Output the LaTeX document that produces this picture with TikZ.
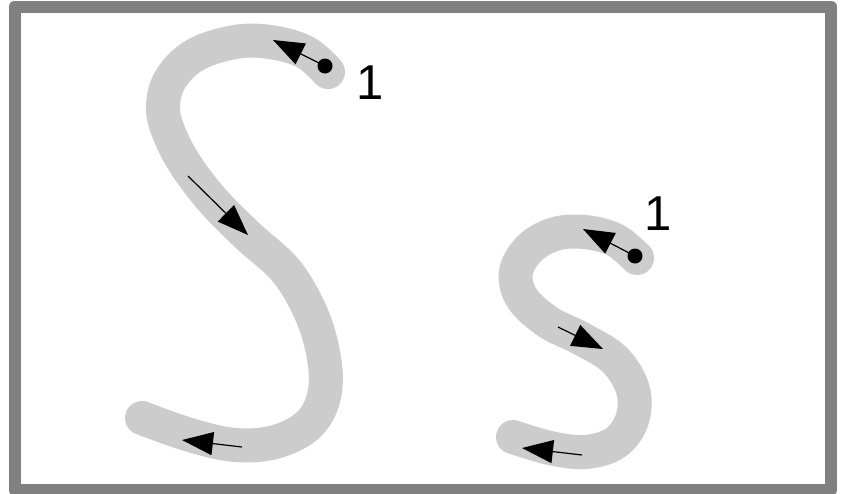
\documentclass[tikz,border=0pt]{standalone}
\usepackage{fontspec}
\setmainfont{Liberation Sans}
\usetikzlibrary{arrows.meta}
\definecolor{strokegray}{HTML}{CCCCCC}
\definecolor{framegray}{HTML}{808080}
\begin{document}
\begin{tikzpicture}[x=1pt,y=-1pt,
  frame/.style={draw=framegray, line width=12pt, line join=round},
  stroke/.style={line width=34pt, draw=strokegray, line cap=round, line join=round},
  dirarrow/.style={line width=1.2pt, -{Triangle[length=31pt,width=23pt]}},
  startdot/.style={circle, fill=black, inner sep=0pt, minimum size=15pt},
  numlabel/.style={font=\fontsize{49}{49}\selectfont, inner sep=0pt}]
\useasboundingbox (0,0) rectangle (845,493);
\fill[white] (0,0) rectangle (845,493);
\draw[frame] (14.5,6.5) rectangle (831,490);
% big S
\draw[stroke] plot[smooth, tension=0.6] coordinates {(328,72) (305,52) (270,42) (235,42) (195,55) (170,80) (163,110) (172,140) (189,170) (215,203) (248,236) (287,272) (313,318) (325,365) (323,400) (307,426) (275,442) (235,445) (190,435) (142,418)};
% small S
\draw[stroke] plot[smooth, tension=0.6] coordinates {(637,258) (615,240) (585,232) (555,234) (530,248) (516,272) (522,298) (548,322) (582,339) (615,360) (633,390) (632,420) (615,443) (585,452) (550,448) (513,437)};
% big S arrows
\node[startdot] (d1) at (325,66) {};
\coordinate (t1) at (273,40);
\draw[dirarrow] (d1.center) -- (t1);
\coordinate (s2) at (188,176);
\coordinate (t2) at (248,235);
\draw[dirarrow] (s2) -- (t2);
\coordinate (s3) at (242,447);
\coordinate (t3) at (182,440);
\draw[dirarrow] (s3) -- (t3);
\node[numlabel] (n1) at (370,82.5) {1};
% small S arrows
\node[startdot] (d2) at (635,256) {};
\coordinate (t4) at (583,229);
\draw[dirarrow] (d2.center) -- (t4);
\coordinate (s5) at (558,327);
\coordinate (t5) at (603,349);
\draw[dirarrow] (s5) -- (t5);
\coordinate (s6) at (582,455);
\coordinate (t6) at (522,448);
\draw[dirarrow] (s6) -- (t6);
\node[numlabel] (n2) at (658,213.5) {1};
\end{tikzpicture}
\end{document}
